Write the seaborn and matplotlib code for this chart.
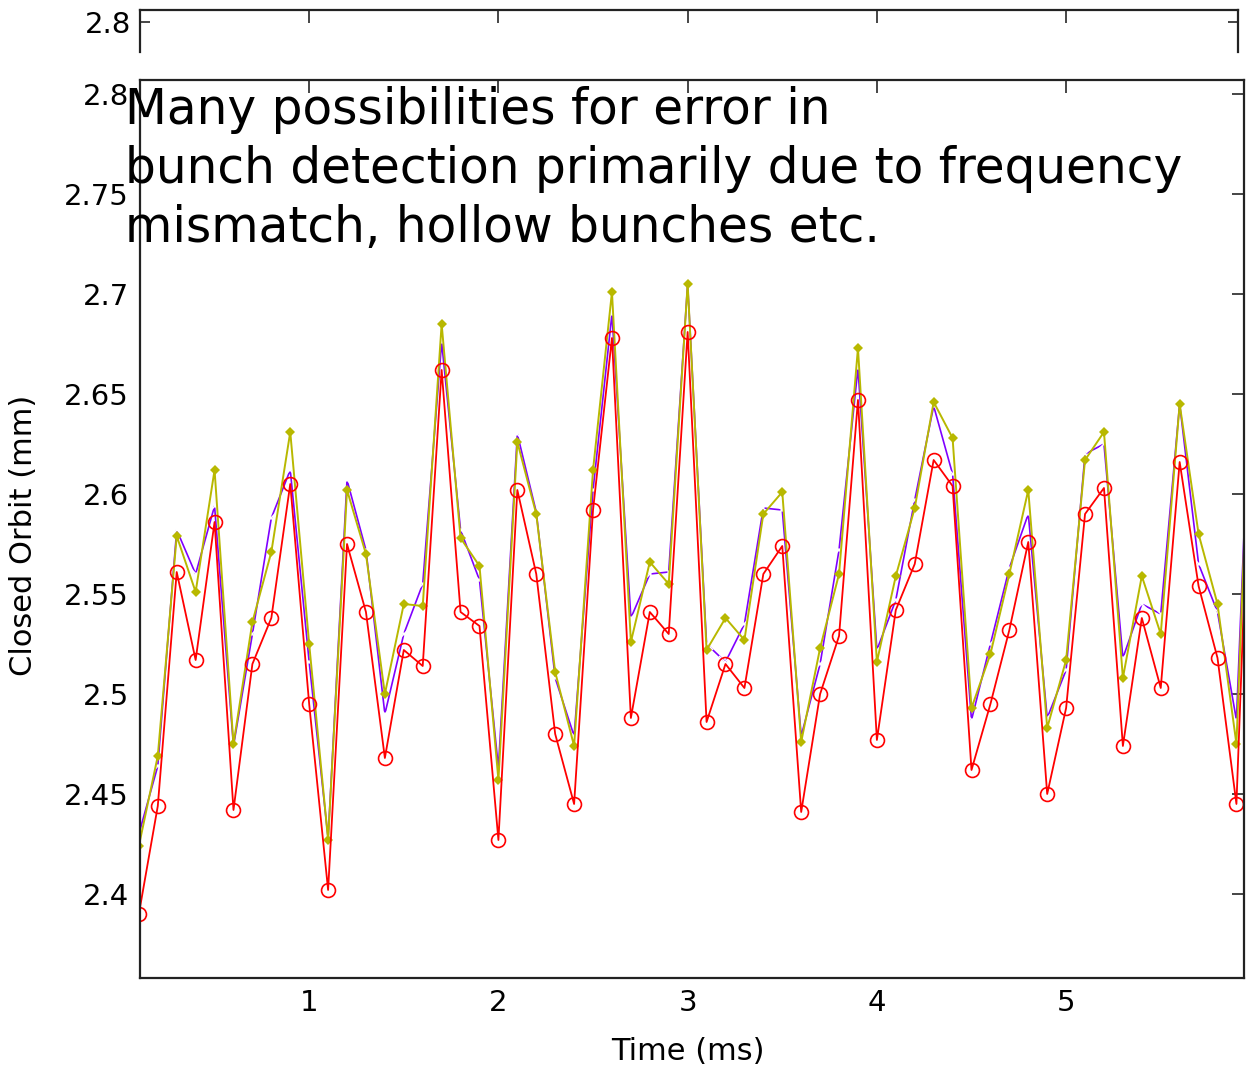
import matplotlib
matplotlib.use("Agg")
import matplotlib.pyplot as plt
import numpy as np
import seaborn as sns

sns.set_style("white")
plt.rcParams['font.family'] = ['DejaVu Sans']

# time samples (ms), one per turn
time = np.round(np.arange(1, 61) * 0.1, 1)

orbit_red = [2.390, 2.444, 2.561, 2.517, 2.586, 2.442, 2.515, 2.538, 2.605, 2.495,
             2.402, 2.575, 2.541, 2.468, 2.522, 2.514, 2.662, 2.541, 2.534, 2.427,
             2.602, 2.560, 2.480, 2.445, 2.592, 2.678, 2.488, 2.541, 2.530, 2.681,
             2.486, 2.515, 2.503, 2.560, 2.574, 2.441, 2.500, 2.529, 2.647, 2.477,
             2.542, 2.565, 2.617, 2.604, 2.462, 2.495, 2.532, 2.576, 2.450, 2.493,
             2.590, 2.603, 2.474, 2.538, 2.503, 2.616, 2.554, 2.518, 2.445, 2.700]

orbit_blue = [2.430, 2.464, 2.582, 2.560, 2.594, 2.474, 2.530, 2.588, 2.612, 2.516,
              2.428, 2.607, 2.572, 2.490, 2.530, 2.555, 2.676, 2.582, 2.557, 2.463,
              2.630, 2.591, 2.508, 2.479, 2.602, 2.690, 2.538, 2.560, 2.561, 2.705,
              2.525, 2.516, 2.535, 2.593, 2.592, 2.479, 2.515, 2.572, 2.663, 2.522,
              2.547, 2.597, 2.644, 2.610, 2.487, 2.525, 2.563, 2.590, 2.488, 2.512,
              2.620, 2.625, 2.518, 2.545, 2.540, 2.645, 2.565, 2.541, 2.487, 2.720]

orbit_olive = [2.424, 2.469, 2.579, 2.551, 2.612, 2.475, 2.536, 2.571, 2.631, 2.525,
               2.427, 2.602, 2.570, 2.500, 2.545, 2.544, 2.685, 2.578, 2.564, 2.457,
               2.626, 2.590, 2.511, 2.474, 2.612, 2.701, 2.526, 2.566, 2.555, 2.705,
               2.522, 2.538, 2.527, 2.590, 2.601, 2.476, 2.523, 2.560, 2.673, 2.516,
               2.559, 2.593, 2.646, 2.628, 2.493, 2.520, 2.560, 2.602, 2.483, 2.517,
               2.617, 2.631, 2.508, 2.559, 2.530, 2.645, 2.580, 2.545, 2.475, 2.720]

yticks = [2.4, 2.45, 2.5, 2.55, 2.6, 2.65, 2.7, 2.75, 2.8]
ytick_labels = ["2.4", "2.45", "2.5", "2.55", "2.6", "2.65", "2.7", "2.75", "2.8"]
xticks = [1, 2, 3, 4, 5]

W, H = 1246, 1075
fig = plt.figure(figsize=(W / 100, H / 100), dpi=100)

# strip of a second axes peeking out at the top
strip = fig.add_axes([140 / W, 1 - 52 / H, 1098 / W, 42 / H])
strip.set_xlim(0.106, 5.908)
strip.set_ylim(2.7, 2.84)
strip.set_yticks([2.8])
strip.set_yticklabels(["2.8"], fontsize=21, color='black')
strip.set_xticks(xticks)
strip.tick_params(axis='x', direction='in', top=True, bottom=False, labelbottom=False, length=9, width=1.2)
strip.tick_params(axis='y', direction='in', left=True, right=True, length=7, width=1.2, pad=6)
strip.spines['bottom'].set_visible(False)
for s in ['top', 'left', 'right']:
    strip.spines[s].set_linewidth(1.6)
    strip.spines[s].set_color('#222222')

ax = fig.add_axes([140 / W, 1 - 978 / H, 1104 / W, 898 / H])
sns.lineplot(x=time, y=orbit_blue, ax=ax, color='#7f00ff', linewidth=1.2,
             marker='x', markersize=8, markeredgewidth=1.1)
sns.lineplot(x=time, y=orbit_olive, ax=ax, color='#b8b800', linewidth=1.4,
             marker='D', markersize=5, markeredgewidth=0)
sns.lineplot(x=time, y=orbit_red, ax=ax, color='#ff0000', linewidth=1.3,
             marker='o', markersize=10, markerfacecolor='none',
             markeredgecolor='#ff0000', markeredgewidth=1.2)

ax.set_xlim(0.106, 5.94)
ax.set_ylim(2.358, 2.807)
ax.set_yticks(yticks)
ax.set_yticklabels(ytick_labels, fontsize=21, color='black')
ax.set_xticks(xticks)
ax.set_xticklabels([str(v) for v in xticks], fontsize=21, color='black')
ax.tick_params(direction='in', top=True, right=True, length=9, width=1.2, pad=8)
for s in ax.spines.values():
    s.set_linewidth(1.6)
    s.set_color('#222222')

ax.set_xlabel("Time (ms)", fontsize=22, color='black')
ax.set_ylabel("Closed Orbit (mm)", fontsize=22, color='black')
ax.xaxis.set_label_coords(0.496, -0.066)
ax.yaxis.set_label_coords(-0.092, 0.493)

fig.text(125 / W, 1 - 86 / H,
         "Many possibilities for error in\nbunch detection primarily due to frequency\nmismatch, hollow bunches etc.",
         fontsize=35, va='top', ha='left', linespacing=1.29, color='black')

fig.savefig("out.png", dpi=100)
